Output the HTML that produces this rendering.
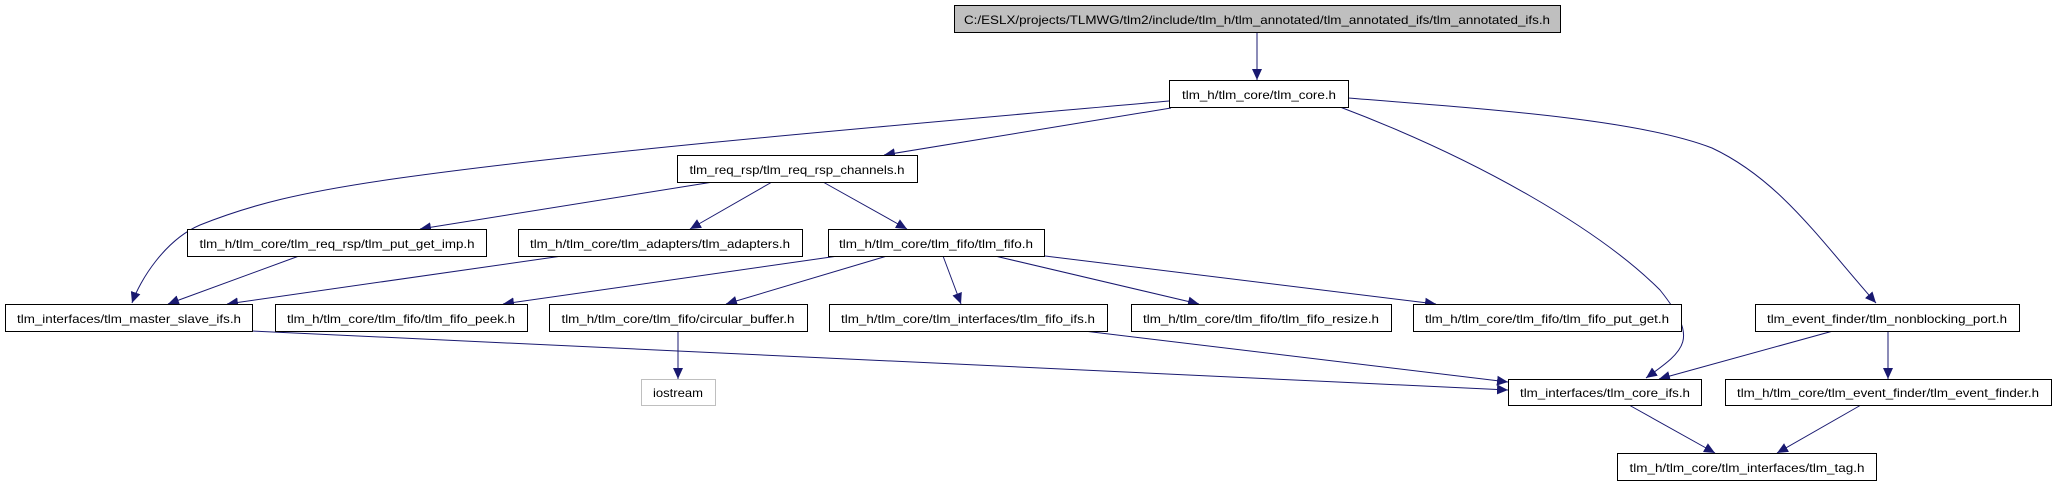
<!DOCTYPE html>
<html><head><meta charset="utf-8"><style>
html,body{margin:0;padding:0;background:#fff;}
svg{display:block;}
text{font-family:"Liberation Sans",sans-serif;font-size:12px;fill:#000;}
</style></head><body>
<svg width="2055" height="485" viewBox="0 0 2055 485" xmlns="http://www.w3.org/2000/svg">
<defs>
<marker id="a" markerUnits="userSpaceOnUse" markerWidth="12" markerHeight="10" refX="11" refY="5" orient="auto">
<path d="M0,0 L11,5 L0,10 Z" fill="#191970"/>
</marker>
</defs>
<g fill="none" stroke="#191970" stroke-width="1" marker-end="url(#a)">
<path d="M1257,32 L1257,80"/>
<path d="M1169,101 C900,125 600,150 400,178 C300,192 250,205 200,225 C165,240 140,280 132,303"/>
<path d="M1171,108 L884,155"/>
<path d="M1340,107 C1480,160 1600,230 1660,290 C1700,340 1685,350 1646,378"/>
<path d="M1348,98 C1500,110 1640,120 1712,148 C1780,180 1820,240 1876,303"/>
<path d="M713,182 L420,229"/>
<path d="M772,182 L690,229"/>
<path d="M823,182 L907,229"/>
<path d="M299,256 L168,304"/>
<path d="M562,256 L227,304"/>
<path d="M838,256 L503,304"/>
<path d="M887,256 L726,304"/>
<path d="M943,256 L961,304"/>
<path d="M995,256 L1199,304"/>
<path d="M1045,256 L1436,304"/>
<path d="M678,331 L678,379"/>
<path d="M252,331 L1508,390"/>
<path d="M1084,331 L1508,382"/>
<path d="M1833,331 L1659,379"/>
<path d="M1888,331 L1888,379"/>
<path d="M1629,405 L1715,453"/>
<path d="M1861,405 L1777,453"/>
</g>
<g stroke="#000" stroke-width="1" fill="#fff">
<rect x="954.5" y="5.5" width="606" height="27" fill="#bfbfbf"/>
<rect x="1169.5" y="80.5" width="179" height="27"/>
<rect x="677.5" y="155.5" width="240" height="27"/>
<rect x="187.5" y="229.5" width="299" height="27"/>
<rect x="518.5" y="229.5" width="284" height="27"/>
<rect x="828.5" y="229.5" width="216" height="27"/>
<rect x="5.5" y="304.5" width="247" height="27"/>
<rect x="275.5" y="304.5" width="252" height="27"/>
<rect x="549.5" y="304.5" width="258" height="27"/>
<rect x="829.5" y="304.5" width="278" height="27"/>
<rect x="1131.5" y="304.5" width="260" height="27"/>
<rect x="1413.5" y="304.5" width="268" height="27"/>
<rect x="1755.5" y="304.5" width="264" height="27"/>
<rect x="641.5" y="379.5" width="74" height="26" stroke="#bfbfbf"/>
<rect x="1508.5" y="379.5" width="193" height="26"/>
<rect x="1725.5" y="379.5" width="326" height="26"/>
<rect x="1617.5" y="453.5" width="259" height="27"/>
</g>
<g text-anchor="middle">
<text x="1257" y="24" textLength="586" lengthAdjust="spacingAndGlyphs">C:/ESLX/projects/TLMWG/tlm2/include/tlm_h/tlm_annotated/tlm_annotated_ifs/tlm_annotated_ifs.h</text>
<text x="1259" y="99" textLength="154" lengthAdjust="spacingAndGlyphs">tlm_h/tlm_core/tlm_core.h</text>
<text x="797" y="174" textLength="215" lengthAdjust="spacingAndGlyphs">tlm_req_rsp/tlm_req_rsp_channels.h</text>
<text x="337" y="248" textLength="275" lengthAdjust="spacingAndGlyphs">tlm_h/tlm_core/tlm_req_rsp/tlm_put_get_imp.h</text>
<text x="660" y="248" textLength="260" lengthAdjust="spacingAndGlyphs">tlm_h/tlm_core/tlm_adapters/tlm_adapters.h</text>
<text x="936" y="248" textLength="194" lengthAdjust="spacingAndGlyphs">tlm_h/tlm_core/tlm_fifo/tlm_fifo.h</text>
<text x="129" y="323" textLength="224" lengthAdjust="spacingAndGlyphs">tlm_interfaces/tlm_master_slave_ifs.h</text>
<text x="401" y="323" textLength="228" lengthAdjust="spacingAndGlyphs">tlm_h/tlm_core/tlm_fifo/tlm_fifo_peek.h</text>
<text x="678" y="323" textLength="233" lengthAdjust="spacingAndGlyphs">tlm_h/tlm_core/tlm_fifo/circular_buffer.h</text>
<text x="968" y="323" textLength="254" lengthAdjust="spacingAndGlyphs">tlm_h/tlm_core/tlm_interfaces/tlm_fifo_ifs.h</text>
<text x="1261" y="323" textLength="236" lengthAdjust="spacingAndGlyphs">tlm_h/tlm_core/tlm_fifo/tlm_fifo_resize.h</text>
<text x="1547" y="323" textLength="244" lengthAdjust="spacingAndGlyphs">tlm_h/tlm_core/tlm_fifo/tlm_fifo_put_get.h</text>
<text x="1887" y="323" textLength="240" lengthAdjust="spacingAndGlyphs">tlm_event_finder/tlm_nonblocking_port.h</text>
<text x="678" y="397" textLength="50" lengthAdjust="spacingAndGlyphs">iostream</text>
<text x="1605" y="397" textLength="170" lengthAdjust="spacingAndGlyphs">tlm_interfaces/tlm_core_ifs.h</text>
<text x="1888" y="397" textLength="302" lengthAdjust="spacingAndGlyphs">tlm_h/tlm_core/tlm_event_finder/tlm_event_finder.h</text>
<text x="1747" y="472" textLength="235" lengthAdjust="spacingAndGlyphs">tlm_h/tlm_core/tlm_interfaces/tlm_tag.h</text>
</g>
</svg>
</body></html>
